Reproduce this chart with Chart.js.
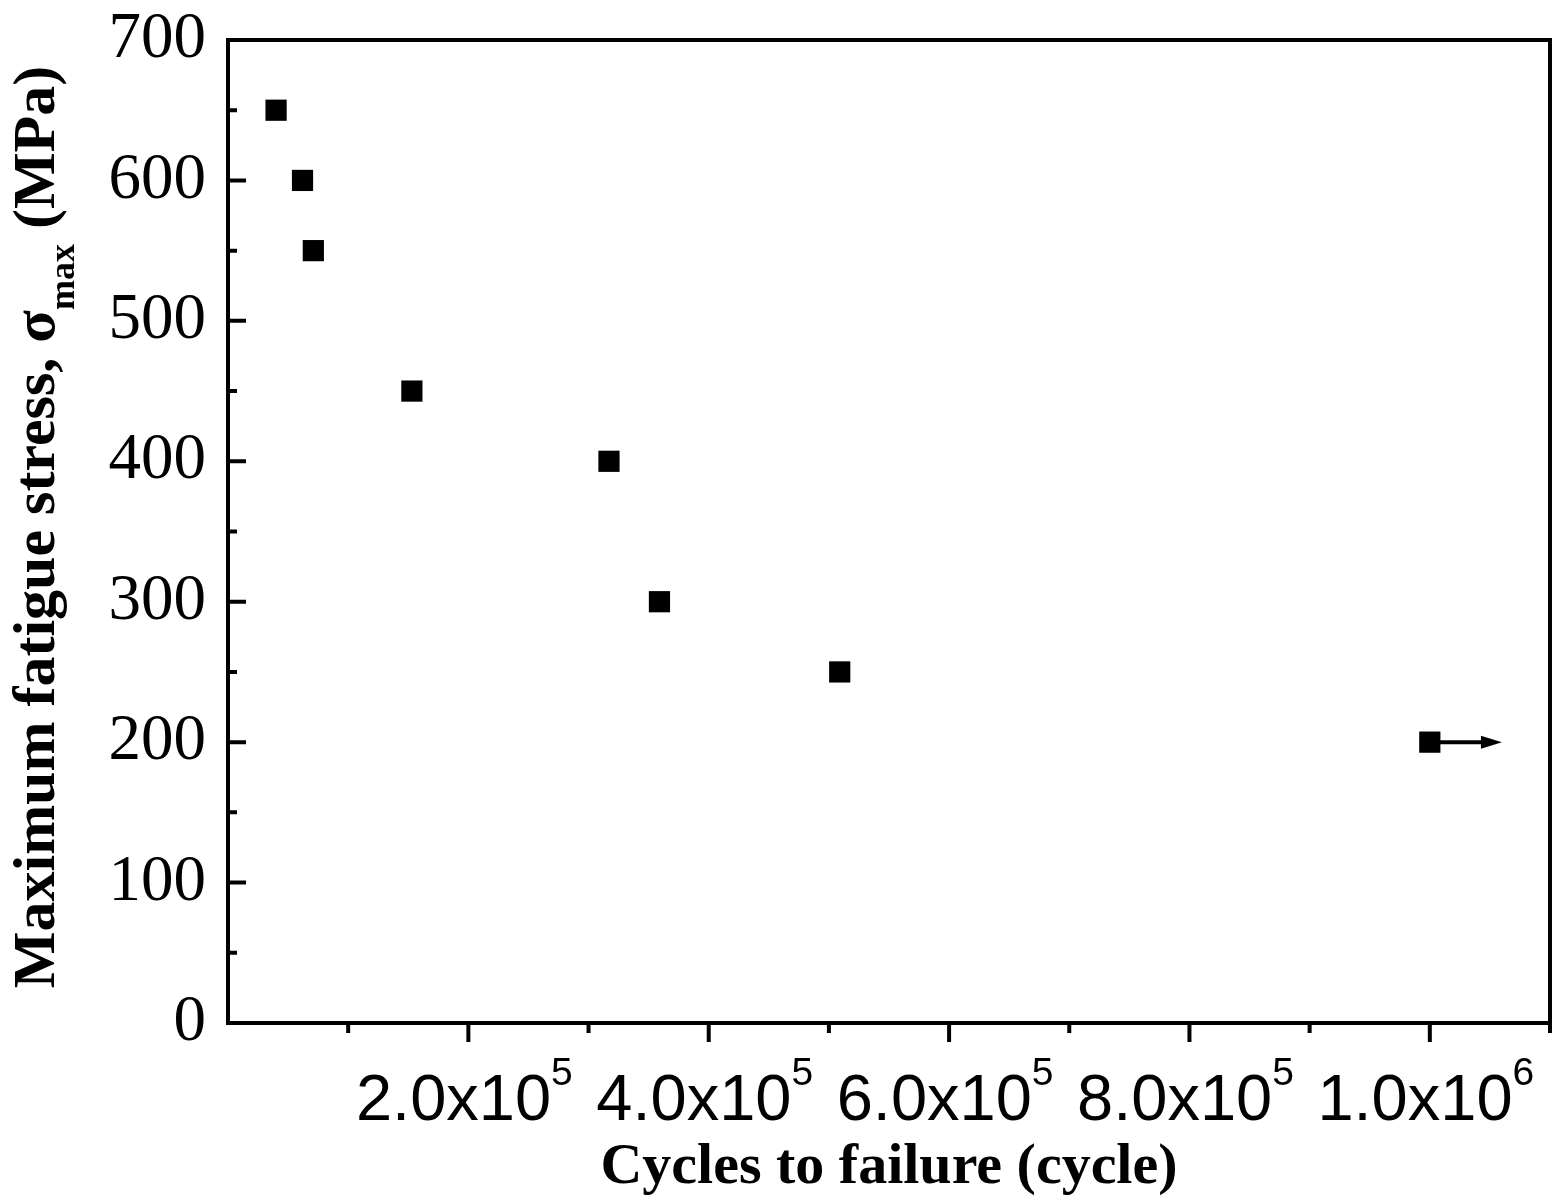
<!DOCTYPE html>
<html>
<head>
<meta charset="utf-8">
<script src="https://cdn.jsdelivr.net/npm/chart.js@4"></script>
<style>
  body { margin: 0; background: #fff; }
  canvas { display: block; }
</style>
</head>
<body>
<canvas id="mycanvas" width="1565" height="1203"></canvas>
<script>
// data
var cycles = [40000, 62000, 71000, 153000, 317000, 359000, 509000, 1000000];
var stress = [650, 600, 550, 450, 400, 300, 250, 200];
var runoutIndex = 7;          // last specimen did not fail
var runoutArrowEnd = 1060000; // arrow tip, in cycles

var xTickValues = [200000, 400000, 600000, 800000, 1000000];
var yTickValues = [0, 100, 200, 300, 400, 500, 600, 700];

var points = [];
for (var i in cycles) {
	points.push({x: cycles[i], y: stress[i]});
}

var frame = {
	id: 'frame',
	afterDraw: function(chart) {
		var ctx = chart.ctx;
		var a = chart.chartArea;
		var xs = chart.scales.x, ys = chart.scales.y;
		ctx.save();
		ctx.strokeStyle = '#000';
		ctx.fillStyle = '#000';
		ctx.lineWidth = 4;
		ctx.strokeRect(a.left, a.top, a.right - a.left, a.bottom - a.top);

		// ticks: y inward, x outward
		ctx.beginPath();
		for (var v = 50; v < 700; v += 50) {
			var py = ys.getPixelForValue(v);
			var len = (v % 100 === 0) ? 16 : 7;
			ctx.moveTo(a.left, py);
			ctx.lineTo(a.left + 2 + len, py);
		}
		for (var k = 1; k <= 11; k++) {
			var px = xs.getPixelForValue(k * 100000);
			var l2 = (k % 2 === 0) ? 17 : 8;
			ctx.moveTo(px, a.bottom);
			ctx.lineTo(px, a.bottom + 2 + l2);
		}
		ctx.stroke();

		// runout arrow
		var p0x = xs.getPixelForValue(cycles[runoutIndex]);
		var p0y = ys.getPixelForValue(stress[runoutIndex]);
		var tip = xs.getPixelForValue(runoutArrowEnd);
		ctx.beginPath();
		ctx.moveTo(p0x, p0y);
		ctx.lineTo(tip - 16, p0y);
		ctx.stroke();
		ctx.beginPath();
		ctx.moveTo(tip, p0y);
		ctx.lineTo(tip - 21, p0y - 6.5);
		ctx.lineTo(tip - 21, p0y + 6.5);
		ctx.closePath();
		ctx.fill();

		// x tick labels with superscript exponent
		ctx.textAlign = 'left';
		ctx.textBaseline = 'alphabetic';
		for (var j in xTickValues) {
			var val = xTickValues[j];
			var ex = Math.floor(Math.log10(val) + 1e-9);
			var base = (val / Math.pow(10, ex)).toFixed(1) + 'x10';
			ctx.font = '65px "Liberation Sans", Arial, sans-serif';
			var wb = ctx.measureText(base).width;
			ctx.font = '39px "Liberation Sans", Arial, sans-serif';
			var we = ctx.measureText(String(ex)).width;
			var x0 = xs.getPixelForValue(val) - (wb + we) / 2 - 4;
			ctx.font = '65px "Liberation Sans", Arial, sans-serif';
			ctx.fillText(base, x0, 1120);
			ctx.font = '39px "Liberation Sans", Arial, sans-serif';
			ctx.fillText(String(ex), x0 + wb, 1085);
		}

		// x title
		ctx.font = 'bold 58px "Liberation Serif", "Times New Roman", serif';
		ctx.textAlign = 'center';
		ctx.fillText('Cycles to failure (cycle)', (a.left + a.right) / 2, 1183);

		// y title with subscript
		var f1 = 'bold 60px "Liberation Serif", "Times New Roman", serif';
		var f2 = 'bold 36px "Liberation Serif", "Times New Roman", serif';
		var t1 = 'Maximum fatigue stress, \u03c3', t2 = 'max', t3 = ' (MPa)';
		ctx.textAlign = 'left';
		ctx.font = f1;
		var w1 = ctx.measureText(t1).width, w3 = ctx.measureText(t3).width;
		ctx.font = f2;
		var w2 = ctx.measureText(t2).width;
		ctx.translate(54, 527);
		ctx.rotate(-Math.PI / 2);
		var s = -(w1 + w2 + w3) / 2;
		ctx.font = f1;
		ctx.fillText(t1, s, 0);
		ctx.font = f2;
		ctx.fillText(t2, s + w1, 20);
		ctx.font = f1;
		ctx.fillText(t3, s + w1 + w2, 0);
		ctx.restore();
	}
};

var ctx = document.getElementById('mycanvas');
var graph = new Chart(ctx, {
	type: 'scatter',
	data: {
		datasets: [{
			label: 'S-N',
			data: points,
			pointStyle: 'rect',
			pointRadius: 15,
			pointHoverRadius: 15,
			backgroundColor: '#000',
			borderColor: '#000',
			borderWidth: 0
		}]
	},
	options: {
		responsive: false,
		devicePixelRatio: 1,
		animation: false,
		layout: { padding: { top: 40, right: 15, left: 0, bottom: 0 } },
		plugins: { legend: { display: false }, tooltip: { enabled: false } },
		scales: {
			x: {
				type: 'linear',
				min: 0,
				max: 1100000,
				ticks: { display: false, stepSize: 100000 },
				grid: { display: false, drawTicks: false },
				border: { display: false },
				afterFit: function(s) { s.height = 180; s.paddingLeft = 0; s.paddingRight = 0; }
			},
			y: {
				min: 0,
				max: 700,
				ticks: {
					stepSize: 50,
					padding: 22,
					color: '#000',
					font: { family: '"Liberation Serif", "Times New Roman", serif', size: 65 },
					callback: function(v) { return yTickValues.indexOf(v) >= 0 ? String(v) : ''; }
				},
				grid: { display: false, drawTicks: false },
				border: { display: false },
				afterFit: function(s) { s.width = 228; s.paddingTop = 0; s.paddingBottom = 0; }
			}
		}
	},
	plugins: [frame]
});
</script>
</body>
</html>
